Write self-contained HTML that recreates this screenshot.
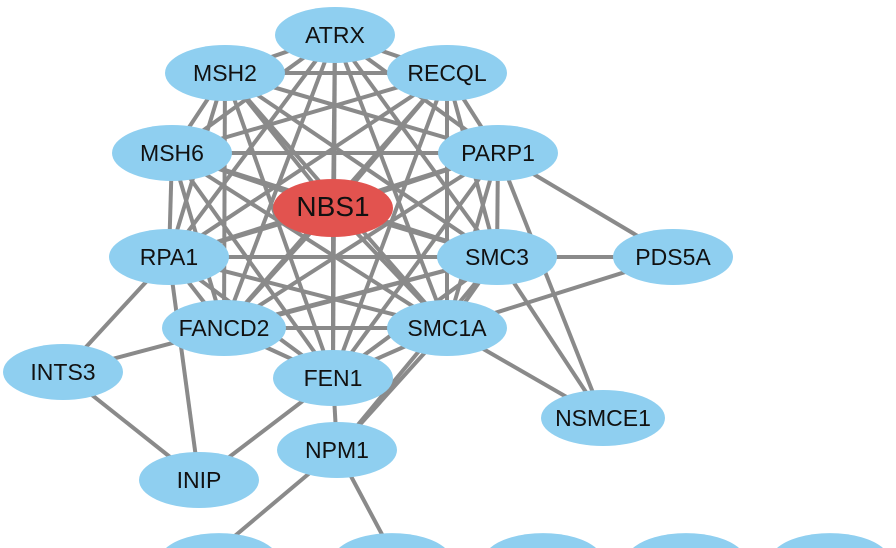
<!DOCTYPE html>
<html><head><meta charset="utf-8"><style>
html,body{margin:0;padding:0;background:#fff;width:896px;height:548px;overflow:hidden}
svg{display:block;overflow:hidden}
</style></head><body>
<svg id="s" width="896" height="548" xmlns="http://www.w3.org/2000/svg">
<g id="e" stroke="#8a8a8a" stroke-width="4" fill="none"></g>
<g id="n" font-family="Liberation Sans, sans-serif" font-size="23" text-anchor="middle"></g>
</svg>
<script>
var N={ATRX:[335,35],MSH2:[225,73],RECQL:[447,73],MSH6:[172,153],PARP1:[498,153],NBS1:[333,208],
RPA1:[169,257],SMC3:[497,257],PDS5A:[673,257],FANCD2:[224,328],SMC1A:[447,328],INTS3:[63,372],
FEN1:[333,378],NSMCE1:[603,418],NPM1:[337,450],INIP:[199,480],B1:[230,540],B2:[385,540],B3:[543,561],B4:[686,561],B5:[830,561]};
var core=["ATRX","MSH2","RECQL","MSH6","PARP1","NBS1","RPA1","SMC3","FANCD2","SMC1A","FEN1"];
var E=[];
for(var i=0;i<core.length;i++)for(var j=i+1;j<core.length;j++)E.push([core[i],core[j]]);
E=E.concat([["PDS5A","SMC3"],["PDS5A","SMC1A"],["PDS5A","PARP1"],["NSMCE1","SMC3"],["NSMCE1","SMC1A"],["NSMCE1","PARP1"],
["INTS3","RPA1"],["INTS3","SMC3"],["INTS3","INIP"],["INIP","RPA1"],["INIP","FEN1"],["NPM1","FEN1"],["NPM1","SMC1A"],["NPM1","SMC3"],["NPM1","B1"],["NPM1","B2"]]);
var ns="http://www.w3.org/2000/svg",g=document.getElementById("e"),h=document.getElementById("n");
E.forEach(function(p){var a=N[p[0]],b=N[p[1]];var l=document.createElementNS(ns,"line");
l.setAttribute("x1",a[0]);l.setAttribute("y1",a[1]);l.setAttribute("x2",b[0]);l.setAttribute("y2",b[1]);g.appendChild(l);});
var BX=[219,392,543,686,830];
BX.forEach(function(cx){var p=document.createElementNS(ns,"path");
p.setAttribute("d","M"+(cx-53)+",548 A60 28 0 0 1 "+(cx+53)+",548 Z");p.setAttribute("fill","#8fcff0");h.appendChild(p);});
for(var k in N){if(k[0]=="B"&&k.length==2)continue;var c=N[k];var el=document.createElementNS(ns,"ellipse");
el.setAttribute("cx",c[0]);el.setAttribute("cy",c[1]);el.setAttribute("rx",k.length>5?62:60);el.setAttribute("ry",k=="NBS1"?29:28);
el.setAttribute("fill",k=="NBS1"?"#e2534f":"#8fcff0");h.appendChild(el);
var t=document.createElementNS(ns,"text");t.setAttribute("x",c[0]);t.setAttribute("y",c[1]+8);
t.setAttribute("fill","#111");if(k=="NBS1")t.setAttribute("font-size","28");t.textContent=k;h.appendChild(t);}
</script>
</body></html>
